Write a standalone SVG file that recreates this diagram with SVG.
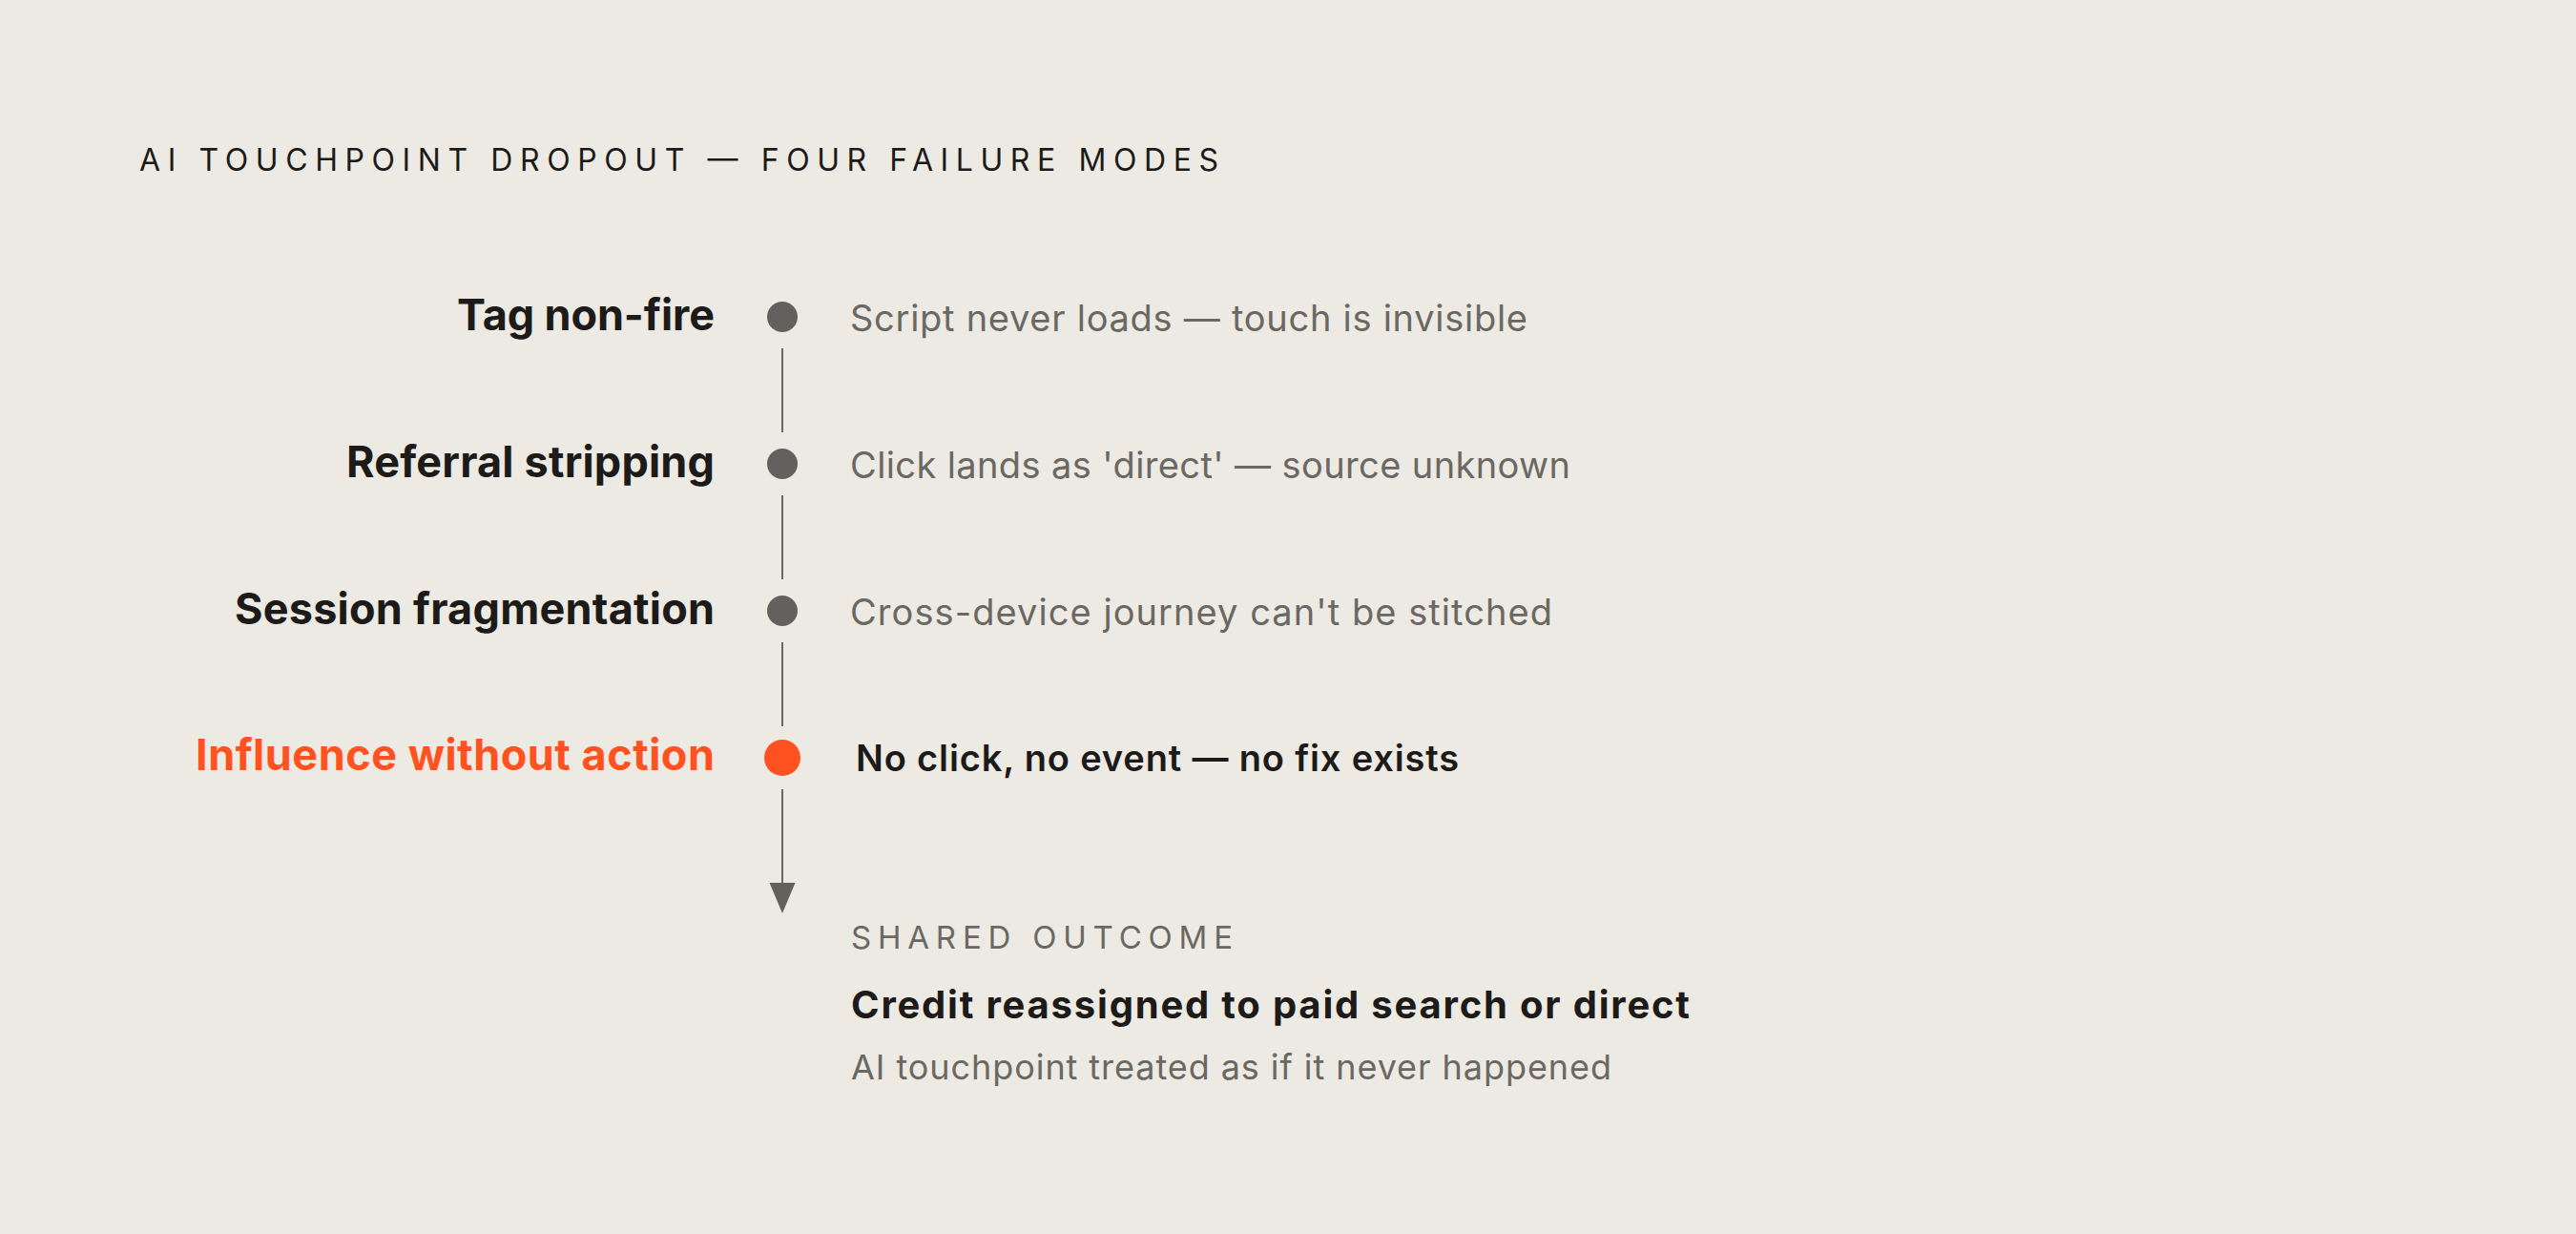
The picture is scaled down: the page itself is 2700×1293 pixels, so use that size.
<svg xmlns="http://www.w3.org/2000/svg" width="2700" height="1293" viewBox="0 0 2700 1293">
  <defs>
    <style>
      .bg { fill: #EDEAE3; }
      .title { font-family: Inter, "Liberation Sans", sans-serif; font-size: 32px; font-weight: 400; fill: #1c1b19; }
      .label { font-family: Inter, "Liberation Sans", sans-serif; font-size: 45px; font-weight: 700; fill: #1c1b19; text-anchor: end; }
      .label.hot { fill: #FF5220; }
      .desc { font-family: Inter, "Liberation Sans", sans-serif; font-size: 38px; font-weight: 400; fill: #6a6863; }
      .desc.strong { font-weight: 600; fill: #1c1b19; }
      .kicker { font-family: Inter, "Liberation Sans", sans-serif; font-size: 33px; font-weight: 400; fill: #6a6863; }
      .outcome { font-family: Inter, "Liberation Sans", sans-serif; font-size: 40px; font-weight: 700; fill: #1c1b19; }
      .sub { font-family: Inter, "Liberation Sans", sans-serif; font-size: 36px; font-weight: 400; fill: #6a6863; }
      .dot { fill: #62615d; }
      .dot.hot { fill: #FF5220; }
      .conn { stroke: #6a6863; stroke-width: 2; fill: none; }
    </style>
  </defs>
  <rect class="bg" x="0" y="0" width="2700" height="1293"/>

  <text id="title" class="title" x="146" y="179" textLength="1131">AI TOUCHPOINT DROPOUT — FOUR FAILURE MODES</text>

  <g id="connectors">
    <line class="conn" x1="820" y1="365" x2="820" y2="453"/>
    <line class="conn" x1="820" y1="519" x2="820" y2="607"/>
    <line class="conn" x1="820" y1="673" x2="820" y2="761"/>
    <line class="conn" x1="820" y1="827" x2="820" y2="926"/>
    <path d="M806.5,925 L833.5,925 L820,957 Z" fill="#62615d"/>
  </g>

  <g id="node-tag-non-fire">
    <text class="label" x="749" y="346" textLength="270">Tag non-fire</text>
    <circle class="dot" cx="820" cy="332" r="16"/>
    <text class="desc" x="891" y="347" textLength="710">Script never loads — touch is invisible</text>
  </g>

  <g id="node-referral-stripping">
    <text class="label" x="749" y="500" textLength="386">Referral stripping</text>
    <circle class="dot" cx="820" cy="486" r="16"/>
    <text class="desc" x="891" y="501" textLength="755">Click lands as 'direct' — source unknown</text>
  </g>

  <g id="node-session-fragmentation">
    <text class="label" x="749" y="654" textLength="503">Session fragmentation</text>
    <circle class="dot" cx="820" cy="640" r="16"/>
    <text class="desc" x="891" y="655" textLength="736">Cross-device journey can't be stitched</text>
  </g>

  <g id="node-influence-without-action">
    <text class="label hot" x="749" y="807" textLength="544">Influence without action</text>
    <circle class="dot hot" cx="820" cy="794" r="19"/>
    <text class="desc strong" x="897" y="808" textLength="632">No click, no event — no fix exists</text>
  </g>

  <g id="node-shared-outcome">
    <text class="kicker" x="892" y="994" textLength="400">SHARED OUTCOME</text>
    <text class="outcome" x="892" y="1067" textLength="879">Credit reassigned to paid search or direct</text>
    <text class="sub" x="892" y="1131" textLength="797">AI touchpoint treated as if it never happened</text>
  </g>
</svg>
